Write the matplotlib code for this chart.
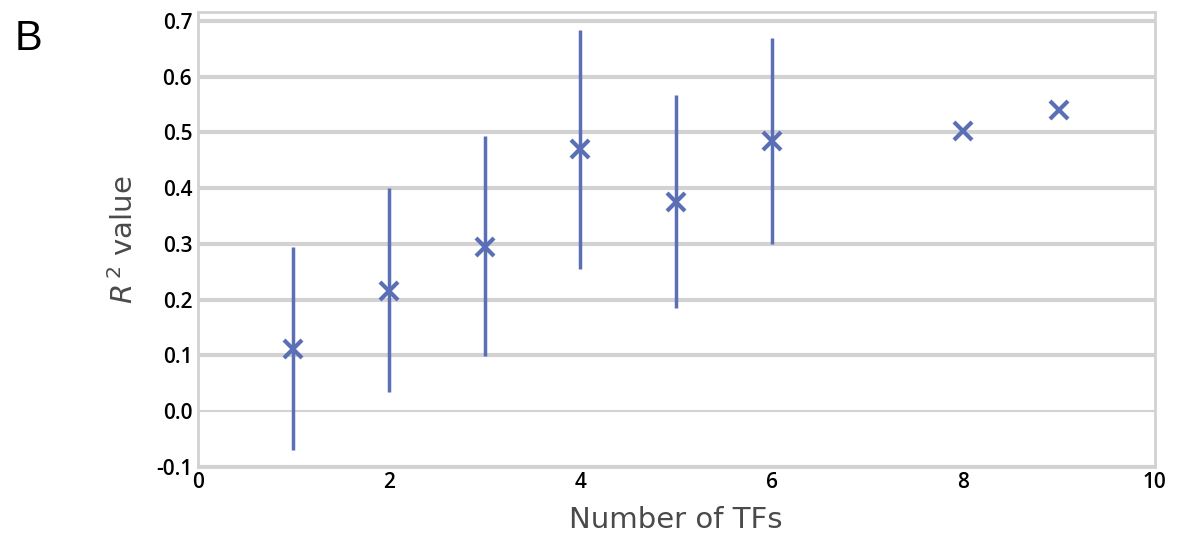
import matplotlib
matplotlib.use('Agg')
import matplotlib.pyplot as plt

# 数据：TF 数量与 R^2 值（均值及误差范围）
n_tfs = [1, 2, 3, 4, 5, 6, 8, 9]
r2_mean = [0.112, 0.216, 0.295, 0.471, 0.376, 0.484, 0.502, 0.540]
r2_upper = [0.295, 0.400, 0.493, 0.683, 0.568, 0.669, 0.502, 0.540]
r2_lower = [-0.070, 0.034, 0.099, 0.255, 0.185, 0.300, 0.502, 0.540]
y_ticks = [-0.1, 0.0, 0.1, 0.2, 0.3, 0.4, 0.5, 0.6, 0.7]
x_ticks = [0, 2, 4, 6, 8, 10]

plt.rcParams['font.family'] = ['Open Sans', 'DejaVu Sans']

blue = '#5a6fb5'
grid_c = '#d2d2d2'

fig = plt.figure(figsize=(11.77, 5.36), dpi=100)
ax = fig.add_axes([0.168, 0.129, 0.813, 0.849])

# 水平网格线（0.0 这条较细）
for t in y_ticks:
    if t == 0.0:
        ax.axhline(t, color=grid_c, lw=1.5, zorder=0)
    else:
        ax.axhline(t, color=grid_c, lw=3, zorder=0)

yerr_lo = [m - lo for m, lo in zip(r2_mean, r2_lower)]
yerr_hi = [hi - m for m, hi in zip(r2_mean, r2_upper)]
ax.errorbar(n_tfs, r2_mean, yerr=[yerr_lo, yerr_hi], fmt='x', color=blue,
            ecolor=blue, elinewidth=2.5, capsize=0, markersize=13, mew=3, zorder=3)

ax.set_xlim(0, 10)
ax.set_ylim(-0.1, 0.7165)
ax.set_xticks(x_ticks)
ax.set_yticks(y_ticks)
ax.set_yticklabels(['%.1f' % t for t in y_ticks])
ax.tick_params(length=0, labelsize=15, pad=4)
for lab in ax.get_xticklabels() + ax.get_yticklabels():
    lab.set_fontweight('semibold')

for s in ax.spines.values():
    s.set_color(grid_c)
    s.set_linewidth(2)

ax.set_xlabel('Number of TFs', fontsize=21, color='#4a4a4a', family='DejaVu Sans', labelpad=9)
ax.set_ylabel(r'$R^{\,2}$ value', fontsize=21, color='#4a4a4a', family='DejaVu Sans', labelpad=12)

fig.text(0.0127, 0.907, 'B', fontsize=30, family='Liberation Sans')

fig.savefig('out.png', dpi=100, facecolor='white')
